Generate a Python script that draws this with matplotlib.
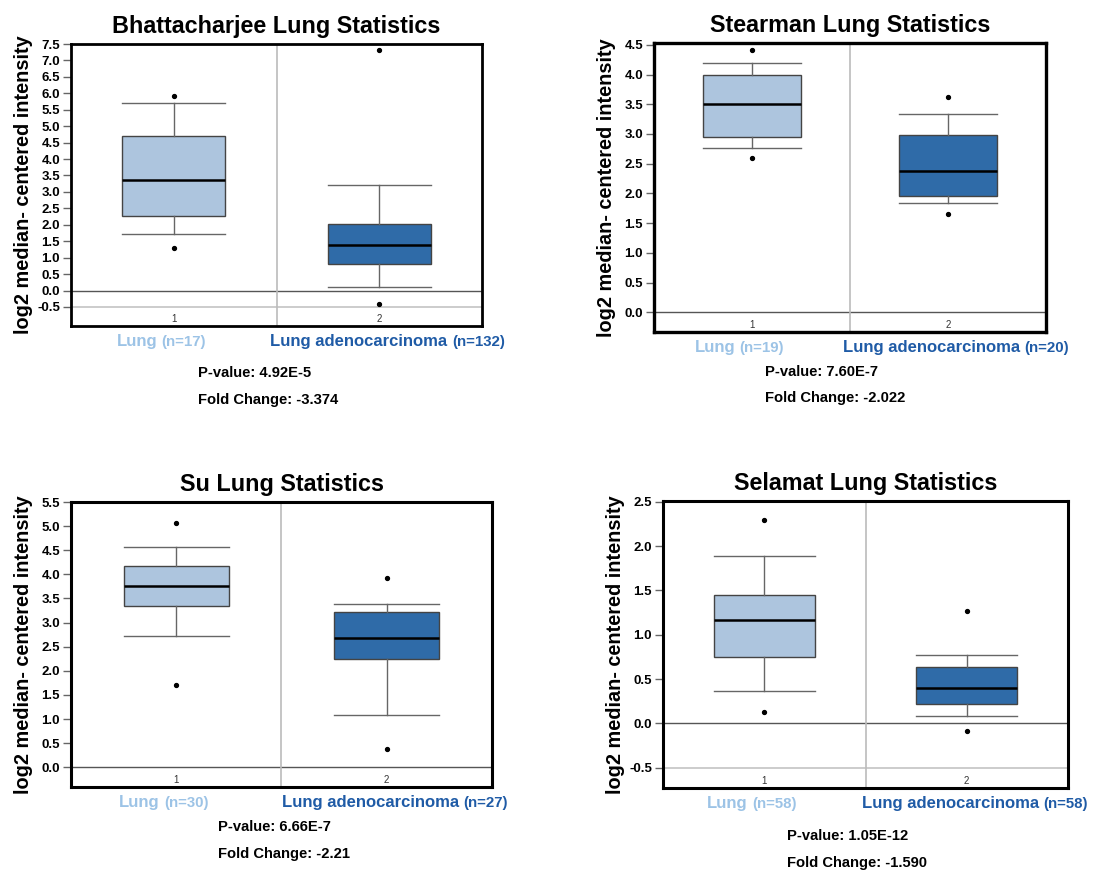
import matplotlib
matplotlib.use("Agg")
import matplotlib.pyplot as plt
from matplotlib.offsetbox import TextArea, HPacker, AnnotationBbox

plt.rcParams['font.family'] = ['Liberation Sans', 'DejaVu Sans']

# ---------------- data ----------------
titles = ["Bhattacharjee Lung Statistics", "Stearman Lung Statistics",
          "Su Lung Statistics", "Selamat Lung Statistics"]
group_names = ["Lung", "Lung adenocarcinoma"]
group_n = [[17, 132], [19, 20], [30, 27], [58, 58]]
p_values = ["4.92E-5", "7.60E-7", "6.66E-7", "1.05E-12"]
fold_changes = ["-3.374", "-2.022", "-2.21", "-1.590"]

# per panel: [Lung, Lung adenocarcinoma]
whis_lo = [[1.71, 0.10], [2.77, 1.84], [2.72, 1.09], [0.36, 0.08]]
q1 = [[2.26, 0.82], [2.95, 1.96], [3.35, 2.25], [0.75, 0.22]]
med = [[3.35, 1.38], [3.50, 2.37], [3.75, 2.67], [1.17, 0.40]]
q3 = [[4.69, 2.01], [4.00, 2.99], [4.17, 3.21], [1.45, 0.64]]
whis_hi = [[5.71, 3.21], [4.20, 3.34], [4.56, 3.39], [1.89, 0.77]]
outliers = [[[5.92, 1.30], [7.31, -0.42]],
            [[4.42, 2.60], [3.62, 1.655]],
            [[5.07, 1.70], [3.92, 0.37]],
            [[2.30, 0.13], [1.27, -0.083]]]
yticks = [[-0.5 + 0.5 * i for i in range(17)],
          [0.5 * i for i in range(10)],
          [0.5 * i for i in range(12)],
          [-0.5 + 0.5 * i for i in range(7)]]
ylims = [(-1.08, 7.5), (-0.33, 4.53), (-0.41, 5.5), (-0.73, 2.51)]

# ---------------- layout (pixels, top-left origin) ----------------
W, H = 1106, 871
axes_px = [(71, 44, 482, 326), (654, 43, 1046, 332),
           (71, 502, 492, 787), (663, 501, 1068, 788)]
stats_txt_px = [(198, 373, 400), (765, 372, 398), (218, 827, 854), (787, 836, 863)]
frame_lw = [2.0, 2.4, 2.2, 2.2]
label_shift_pt = [-9, 6]

light_fill = "#adc5de"
dark_fill = "#2f6ba8"
label_colors = ["#9cc3e6", "#1f5ba6"]

fig = plt.figure(figsize=(W / 100, H / 100), dpi=100)
fig.patch.set_facecolor("white")

for k in range(4):
    x0, y0, x1, y1 = axes_px[k]
    ax = fig.add_axes([x0 / W, 1 - y1 / H, (x1 - x0) / W, (y1 - y0) / H])
    stats = []
    for g in range(2):
        stats.append(dict(whislo=whis_lo[k][g], q1=q1[k][g], med=med[k][g],
                          q3=q3[k][g], whishi=whis_hi[k][g],
                          fliers=outliers[k][g], label=str(g + 1)))
    bp = ax.bxp(stats, positions=[1, 2], widths=0.5, capwidths=0.5,
                patch_artist=True, showfliers=True,
                boxprops=dict(edgecolor="#444444", linewidth=1.0),
                whiskerprops=dict(color="#666666", linewidth=1.0),
                capprops=dict(color="#666666", linewidth=1.0),
                medianprops=dict(color="#000000", linewidth=1.8),
                flierprops=dict(marker="o", markersize=2.8,
                                markerfacecolor="black", markeredgecolor="black"),
                zorder=3)
    for patch, col in zip(bp["boxes"], [light_fill, dark_fill]):
        patch.set_facecolor(col)
    ax.set_xlim(0.5, 2.5)
    ax.set_ylim(*ylims[k])
    ax.axhline(0.0, color="#555555", linewidth=1.0, zorder=1)
    ax.axhline(-0.5, color="#cccccc", linewidth=1.4, zorder=1)
    ax.axvline(1.5, color="#bbbbbb", linewidth=1.2, zorder=1)

    ax.set_yticks(yticks[k])
    ax.set_yticklabels([f"{v:.1f}" for v in yticks[k]], fontweight="bold", fontsize=9.5)
    ax.tick_params(axis="y", length=6, width=1, color="#666666", pad=2)
    ax.set_xticks([1, 2])
    ax.set_xticklabels(["1", "2"], fontsize=7, color="#333333")
    ax.tick_params(axis="x", length=0, pad=-9)
    for s in ax.spines.values():
        s.set_linewidth(frame_lw[k])
        s.set_color("black")

    ax.set_ylabel("log2 median- centered intensity", fontsize=14.3, fontweight="bold")
    ax.yaxis.set_label_coords(-38 / (x1 - x0), 0.5)
    ax.set_title(titles[k], fontsize=16.8, fontweight="bold", pad=8)

    for g in range(2):
        t1 = TextArea(group_names[g], textprops=dict(color=label_colors[g], fontsize=12,
                                                     fontweight="bold"))
        t2 = TextArea(f"(n={group_n[k][g]})", textprops=dict(color=label_colors[g],
                                                             fontsize=10.8, fontweight="bold"))
        pack = HPacker(children=[t1, t2], sep=3, pad=0, align="baseline")
        ab = AnnotationBbox(pack, (g + 1, 0), xycoords=("data", "axes fraction"),
                            xybox=(label_shift_pt[g], -11), boxcoords="offset points",
                            box_alignment=(0.5, 0.5), frameon=False)
        ax.add_artist(ab)

    tx, ty1, ty2 = stats_txt_px[k]
    fig.text(tx / W, 1 - ty1 / H, f"P-value: {p_values[k]}", fontsize=10.6,
             fontweight="bold", va="center", ha="left")
    fig.text(tx / W, 1 - ty2 / H, f"Fold Change: {fold_changes[k]}", fontsize=10.6,
             fontweight="bold", va="center", ha="left")

fig.savefig("out.png", dpi=100, facecolor="white")
